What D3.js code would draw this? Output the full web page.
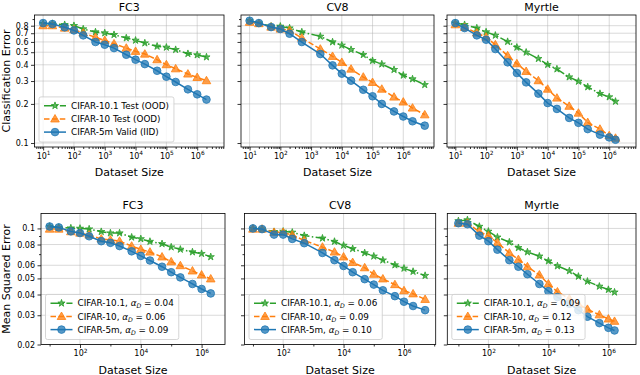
<!DOCTYPE html>
<html>
<head>
<meta charset="utf-8">
<script src="https://cdn.jsdelivr.net/npm/d3@7"></script>
<style>
  body { margin: 0; background: #fff; }
  svg { display: block; font-family: "DejaVu Sans", sans-serif; }
</style>
</head>
<body>
<svg id="chart" width="640" height="375"></svg>
<script>
// dataset sizes per model
const sizesFC3 = [10, 20, 50, 100, 200, 500, 1e3, 2e3, 5e3, 1e4, 2e4, 5e4, 1e5, 2e5, 5e5, 1e6, 2e6];
const sizesCV8 = [10, 20, 50, 100, 200, 500, 2e3, 5e3, 1e4, 2e4, 5e4, 1e5, 2e5, 5e5, 1e6, 2e6, 5e6];
const sizesMyrtle = [10, 20, 50, 100, 200, 500, 1e3, 2e3, 5e3, 1e4, 2e4, 5e4, 1e5, 2e5, 5e5, 1e6, 1.6e6];

// classification error (top row)
const fc3Err101 = [0.829, 0.829, 0.814, 0.80, 0.754, 0.715, 0.703, 0.682, 0.643, 0.617, 0.588, 0.555, 0.545, 0.523, 0.487, 0.476, 0.459];
const fc3Err10  = [0.80, 0.80, 0.767, 0.745, 0.703, 0.650, 0.617, 0.581, 0.538, 0.508, 0.484, 0.438, 0.401, 0.373, 0.340, 0.320, 0.302];
const fc3Err5m  = [0.838, 0.824, 0.777, 0.736, 0.674, 0.599, 0.571, 0.538, 0.478, 0.438, 0.405, 0.360, 0.324, 0.295, 0.259, 0.237, 0.216];

const cv8Err101 = [0.874, 0.838, 0.791, 0.791, 0.767, 0.715, 0.662, 0.599, 0.565, 0.523, 0.478, 0.430, 0.405, 0.367, 0.332, 0.311, 0.281];
const cv8Err10  = [0.85, 0.83, 0.781, 0.754, 0.736, 0.643, 0.529, 0.465, 0.418, 0.371, 0.322, 0.293, 0.260, 0.226, 0.207, 0.186, 0.165];
const cv8Err5m  = [0.874, 0.838, 0.781, 0.754, 0.694, 0.599, 0.484, 0.396, 0.342, 0.302, 0.257, 0.229, 0.200, 0.175, 0.160, 0.147, 0.136];

const myrErr101 = [0.838, 0.814, 0.767, 0.715, 0.674, 0.603, 0.545, 0.499, 0.446, 0.401, 0.371, 0.322, 0.298, 0.270, 0.240, 0.226, 0.209];
const myrErr10  = [0.814, 0.777, 0.703, 0.654, 0.571, 0.470, 0.408, 0.356, 0.302, 0.260, 0.222, 0.192, 0.170, 0.144, 0.128, 0.114, 0.109];
const myrErr5m  = [0.838, 0.767, 0.674, 0.624, 0.529, 0.418, 0.346, 0.293, 0.240, 0.203, 0.183, 0.156, 0.143, 0.128, 0.116, 0.1105, 0.106];

// mean squared error (bottom row)
const fc3Mse101 = [0.1027, 0.1014, 0.1005, 0.1, 0.0991, 0.0956, 0.0938, 0.0938, 0.0885, 0.0865, 0.0834, 0.0808, 0.0772, 0.0748, 0.0721, 0.0705, 0.0674];
const fc3Mse10  = [0.0991, 0.0991, 0.0956, 0.0938, 0.0913, 0.0865, 0.0853, 0.0838, 0.0783, 0.0748, 0.0721, 0.0674, 0.0630, 0.0597, 0.0555, 0.0525, 0.0497];
const fc3Mse5m  = [0.1027, 0.1014, 0.096, 0.0938, 0.0897, 0.0838, 0.0819, 0.0783, 0.0728, 0.0683, 0.0641, 0.0588, 0.0545, 0.0507, 0.0463, 0.0432, 0.0406];

const cv8Mse101 = [0.1, 0.0991, 0.0956, 0.096, 0.0947, 0.0905, 0.0873, 0.0834, 0.079, 0.0755, 0.0712, 0.068, 0.0644, 0.0602, 0.0575, 0.055, 0.052];
const cv8Mse10  = [0.0991, 0.0991, 0.0947, 0.0947, 0.0913, 0.0846, 0.0772, 0.0721, 0.0674, 0.0624, 0.058, 0.053, 0.0497, 0.0459, 0.0422, 0.0404, 0.0374];
const cv8Mse5m  = [0.1, 0.0991, 0.0918, 0.0918, 0.0865, 0.0815, 0.0712, 0.0644, 0.0594, 0.0545, 0.0495, 0.0459, 0.0424, 0.0391, 0.0362, 0.0341, 0.0322];

const myrMse101 = [0.111, 0.1125, 0.1027, 0.096, 0.0885, 0.0827, 0.0765, 0.0721, 0.068, 0.0636, 0.0594, 0.0555, 0.0514, 0.048, 0.0448, 0.0428, 0.0413];
const myrMse10  = [0.1075, 0.1075, 0.0956, 0.0905, 0.0819, 0.0712, 0.065, 0.0588, 0.0525, 0.0463, 0.0415, 0.0377, 0.0349, 0.0326, 0.0302, 0.0285, 0.0276];
const myrMse5m  = [0.1075, 0.106, 0.0905, 0.0838, 0.0745, 0.0644, 0.0588, 0.053, 0.0463, 0.0419, 0.0386, 0.0352, 0.0322, 0.0294, 0.0269, 0.0252, 0.0243];

// fitted exponents shown in the bottom legends
const alphaFC3 = [0.04, 0.06, 0.09];
const alphaCV8 = [0.06, 0.09, 0.10];
const alphaMyrtle = [0.09, 0.12, 0.13];

const topLegend = ["CIFAR-10.1 Test (OOD)", "CIFAR-10 Test (OOD)", "CIFAR-5m Valid (IID)"];
const bottomLegend = ["CIFAR-10.1", "CIFAR-10", "CIFAR-5m"];

const topYTicks = [0.1, 0.2, 0.3, 0.4, 0.5, 0.6, 0.7, 0.8];
const topYMinor = [0.9];
const bottomYTicks = [0.02, 0.03, 0.04, 0.05, 0.06, 0.08, 0.1];
const bottomYMinor = [0.07, 0.09];

// ---- styles ----
const colors = ["#2ca02c", "#ff7f0e", "#1f77b4"];
const dashes = ["9.6,2.4,1.5,2.4", "5.5,2.4", null];
const symbols = [d3.symbolStar, d3.symbolTriangle, d3.symbolCircle];
const symSizes = [16, 32, 46];

const svg = d3.select("#chart");

const topRow = { y0: 15, y1: 147, yd: [0.0932, 0.967] };
const botRow = { y0: 213.5, y1: 344.5, yd: [0.02, 0.123] };

const panels = [
  { row: topRow, title: "FC3", x0: 34.5, x1: 224, xd: [0.72, 6.87], sizes: sizesFC3, ys: [fc3Err101, fc3Err10, fc3Err5m], legend: topLegend },
  { row: topRow, title: "CV8", x0: 241, x1: 434, xd: [0.72, 7.0], sizes: sizesCV8, ys: [cv8Err101, cv8Err10, cv8Err5m] },
  { row: topRow, title: "Myrtle", x0: 447, x1: 636, xd: [0.73, 6.87], sizes: sizesMyrtle, ys: [myrErr101, myrErr10, myrErr5m] },
  { row: botRow, title: "FC3", x0: 41, x1: 225, xd: [0.717, 6.77], sizes: sizesFC3, ys: [fc3Mse101, fc3Mse10, fc3Mse5m], alphas: alphaFC3 },
  { row: botRow, title: "CV8", x0: 244.5, x1: 435.7, xd: [0.72, 7.05], sizes: sizesCV8, ys: [cv8Mse101, cv8Mse10, cv8Mse5m], alphas: alphaCV8 },
  { row: botRow, title: "Myrtle", x0: 447.3, x1: 636, xd: [0.63, 6.92], sizes: sizesMyrtle, ys: [myrMse101, myrMse10, myrMse5m], alphas: alphaMyrtle }
];

function drawMarker(g, i, cx, cy) {
  g.append("path")
    .attr("d", d3.symbol().type(symbols[i]).size(symSizes[i])())
    .attr("transform", `translate(${cx},${cy + (i === 1 ? 0.6 : 0)})`)
    .attr("fill", colors[i])
    .attr("fill-opacity", 0.75)
    .attr("stroke", colors[i])
    .attr("stroke-width", 0.8);
}

panels.forEach(p => {
  const isTop = p.row === topRow;
  const x = d3.scaleLog().domain([10 ** p.xd[0], 10 ** p.xd[1]]).range([p.x0, p.x1]);
  const y = d3.scaleLog().domain(p.row.yd).range([p.row.y1, p.row.y0]);
  const g = svg.append("g");

  // grid
  const xMajor = (isTop ? [1, 2, 3, 4, 5, 6] : [2, 4, 6]).map(e => 10 ** e).filter(v => x(v) >= p.x0 && x(v) <= p.x1);
  const yMajor = isTop ? topYTicks : bottomYTicks;
  g.selectAll(".gx").data(xMajor).enter().append("line")
    .attr("x1", d => x(d)).attr("x2", d => x(d))
    .attr("y1", p.row.y0).attr("y2", p.row.y1)
    .attr("stroke", "#b0b0b0").attr("stroke-opacity", 0.6).attr("stroke-width", 0.8);
  g.selectAll(".gy").data(yMajor).enter().append("line")
    .attr("x1", p.x0).attr("x2", p.x1)
    .attr("y1", d => y(d)).attr("y2", d => y(d))
    .attr("stroke", "#b0b0b0").attr("stroke-opacity", 0.6).attr("stroke-width", 0.8);

  // series
  p.ys.forEach((vals, i) => {
    const pts = vals.map((v, k) => [p.sizes[k], v]);
    g.append("path")
      .datum(pts)
      .attr("fill", "none")
      .attr("stroke", colors[i])
      .attr("stroke-width", 1.5)
      .attr("stroke-dasharray", dashes[i])
      .attr("d", d3.line().x(d => x(d[0])).y(d => y(d[1])));
    pts.forEach(d => drawMarker(g, i, x(d[0]), y(d[1])));
  });

  // axes
  let xMinor = [];
  if (isTop) {
    for (let e = 0; e <= 7; e++) for (let k = 2; k <= 9; k++) xMinor.push(k * 10 ** e);
  } else {
    xMinor = [1, 3, 5, 7].map(e => 10 ** e);
  }
  xMinor = xMinor.filter(v => x(v) >= p.x0 && x(v) <= p.x1);

  const xAxis = g.append("g").attr("transform", `translate(0,${p.row.y1})`)
    .call(d3.axisBottom(x).tickValues(xMajor).tickSize(3.5).tickPadding(2.5));
  xAxis.selectAll(".tick text").each(function(d) {
    const t = d3.select(this);
    t.text(null).attr("font-size", 8).attr("fill", "#000");
    t.append("tspan").text("10");
    t.append("tspan").attr("dy", -3.4).attr("font-size", 5.8).text(Math.round(Math.log10(d)));
  });
  const xMin = g.append("g").attr("transform", `translate(0,${p.row.y1})`)
    .call(d3.axisBottom(x).tickValues(xMinor).tickSize(2).tickFormat(""));
  xMin.selectAll("text").remove();

  const yMinor = isTop ? topYMinor : bottomYMinor;
  const yAxis = g.append("g").attr("transform", `translate(${p.x0},0)`)
    .call(d3.axisLeft(y).tickValues(yMajor).tickSize(3.5).tickPadding(2.5)
      .tickFormat(p.x0 < 100 ? d => String(d) : ""));
  yAxis.selectAll(".tick text").attr("font-size", 8).attr("fill", "#000");
  const yMin = g.append("g").attr("transform", `translate(${p.x0},0)`)
    .call(d3.axisLeft(y).tickValues(yMinor).tickSize(2).tickFormat(""));
  yMin.selectAll("text").remove();

  [xAxis, yAxis, xMin, yMin].forEach(a => {
    a.selectAll("line").attr("stroke", "#000").attr("stroke-width", 0.8);
    a.selectAll(".domain").remove();
    a.attr("font-family", null);
  });

  // frame
  g.append("rect")
    .attr("x", p.x0).attr("y", p.row.y0)
    .attr("width", p.x1 - p.x0).attr("height", p.row.y1 - p.row.y0)
    .attr("fill", "none").attr("stroke", "#000").attr("stroke-width", 0.8);

  // title and x label
  g.append("text")
    .attr("x", (p.x0 + p.x1) / 2).attr("y", p.row.y0 - 4.5)
    .attr("text-anchor", "middle").attr("font-size", 11)
    .text(p.title);
  g.append("text")
    .attr("x", (p.x0 + p.x1) / 2).attr("y", p.row.y1 + 29)
    .attr("text-anchor", "middle").attr("font-size", 11)
    .text("Dataset Size");

  // legend
  if (p.legend || p.alphas) {
    const lg = g.append("g");
    const bx = p.x0 + 4.5;
    const rowH = 13.2;
    const bh = 3 * rowH + 5.5;
    const by = p.row.y1 - 5 - bh;
    const box = lg.append("rect")
      .attr("x", bx).attr("y", by).attr("height", bh).attr("rx", 2)
      .attr("fill", "#fff").attr("fill-opacity", 0.8)
      .attr("stroke", "#cccccc").attr("stroke-width", 0.8);
    let maxW = 0;
    [0, 1, 2].forEach(i => {
      const ry = by + 8.8 + i * rowH;
      lg.append("line")
        .attr("x1", bx + 5).attr("x2", bx + 27)
        .attr("y1", ry).attr("y2", ry)
        .attr("stroke", colors[i]).attr("stroke-width", 1.5)
        .attr("stroke-dasharray", dashes[i]);
      drawMarker(lg, i, bx + 16, ry);
      const t = lg.append("text")
        .attr("x", bx + 32).attr("y", ry + 3.2)
        .attr("font-size", 8.8);
      if (p.legend) {
        t.text(p.legend[i]);
      } else {
        t.append("tspan").text(bottomLegend[i] + ", ");
        t.append("tspan").attr("font-style", "italic").text("α");
        t.append("tspan").attr("font-style", "italic").attr("font-size", 6.2).attr("dy", 2).text("D");
        t.append("tspan").attr("dy", -2).text(" = " + p.alphas[i].toFixed(2));
      }
      maxW = Math.max(maxW, t.node().getComputedTextLength());
    });
    box.attr("width", 32 + maxW + 5);
  }
});

// row y labels
svg.append("text")
  .attr("transform", `translate(10,${(topRow.y0 + topRow.y1) / 2}) rotate(-90)`)
  .attr("text-anchor", "middle").attr("font-size", 11)
  .text("Classification Error");
svg.append("text")
  .attr("transform", `translate(10,${(botRow.y0 + botRow.y1) / 2}) rotate(-90)`)
  .attr("text-anchor", "middle").attr("font-size", 11)
  .text("Mean Squared Error");
</script>
</body>
</html>
